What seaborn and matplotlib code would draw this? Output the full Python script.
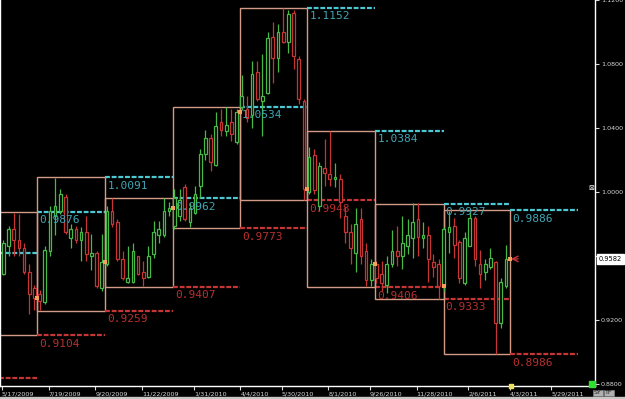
import numpy as np
import pandas as pd
import seaborn as sns
import matplotlib
matplotlib.use("Agg")
import matplotlib.pyplot as plt
import matplotlib.dates as mdates
import matplotlib.transforms as mtrans
from matplotlib.patches import Rectangle

# Estilo escuro, fundo preto como no terminal de cotações
sns.set_style("dark", {"axes.facecolor": "black", "figure.facecolor": "black",
                       "axes.edgecolor": "white"})

# Barras semanais (domingo de cada semana)
semanas = pd.date_range("2009-05-17", periods=98, freq="7D")

abertura = [0.949, 0.966, 0.977, 0.970, 0.965, 0.950, 0.940,
            0.936, 0.931, 0.963, 0.985, 0.988, 0.997, 0.971, 0.977, 0.970, 0.975, 0.960, 0.962, 0.940,
            0.955, 0.988, 0.981, 0.958, 0.944, 0.944, 0.960, 0.950, 0.947, 0.961, 0.973, 0.973, 0.988,
            0.979, 0.985, 1.003, 0.981, 0.987, 1.004, 1.024, 1.034, 1.017, 1.044, 1.038, 1.044, 1.031,
            1.053, 1.052, 1.048, 1.075, 1.057, 1.062, 1.097, 1.084, 1.100, 1.094, 1.112, 1.083, 1.057,
            1.000, 1.023, 0.991, 1.015, 1.011, 1.008, 1.008, 0.985, 0.975, 0.962, 0.983, 0.963, 0.945,
            0.955, 0.949, 0.942, 0.955, 0.963, 0.960, 0.966, 0.971, 0.983, 0.971, 0.973, 0.956, 0.955,
            0.941, 0.975, 0.979, 0.969, 0.943, 0.966, 0.984, 0.955, 0.950, 0.953, 0.956, 0.918, 0.941]
maxima = [0.970, 0.979, 0.987, 0.986, 0.968, 0.955, 0.942,
          0.939, 0.966, 0.991, 1.009, 1.002, 0.999, 0.980, 0.979, 0.978, 0.985, 0.974, 0.963, 0.974,
          0.991, 0.996, 0.983, 0.963, 0.966, 0.968, 0.960, 0.957, 0.966, 0.982, 0.982, 0.996, 0.994,
          1.002, 1.002, 1.005, 0.993, 1.004, 1.027, 1.039, 1.036, 1.050, 1.052, 1.053, 1.052, 1.052,
          1.073, 1.060, 1.082, 1.082, 1.086, 1.100, 1.106, 1.105, 1.115, 1.114, 1.114, 1.085, 1.058,
          1.028, 1.027, 1.019, 1.033, 1.038, 1.018, 1.011, 0.991, 0.980, 0.990, 0.990, 0.968, 0.958,
          0.957, 0.957, 0.960, 0.976, 0.979, 0.985, 0.983, 0.993, 0.993, 0.981, 0.979, 0.961, 0.958,
          0.978, 0.988, 0.984, 0.970, 0.975, 0.9886, 0.985, 0.964, 0.958, 0.965, 0.957, 0.946, 0.967]
minima = [0.948, 0.960, 0.960, 0.960, 0.949, 0.924, 0.926,
          0.926, 0.930, 0.960, 0.973, 0.986, 0.974, 0.965, 0.968, 0.957, 0.957, 0.951, 0.940, 0.938,
          0.954, 0.978, 0.957, 0.945, 0.943, 0.943, 0.948, 0.941, 0.946, 0.959, 0.968, 0.972, 0.985,
          0.977, 0.982, 0.982, 0.978, 0.986, 0.996, 1.020, 1.013, 1.016, 1.035, 1.035, 1.032, 1.030,
          1.051, 1.044, 1.040, 1.057, 1.035, 1.061, 1.068, 1.075, 1.093, 1.087, 1.077, 1.055, 0.995,
          0.999, 0.999, 0.988, 1.004, 1.004, 1.003, 0.984, 0.968, 0.955, 0.950, 0.955, 0.941, 0.941,
          0.943, 0.938, 0.937, 0.953, 0.954, 0.952, 0.961, 0.959, 0.960, 0.965, 0.944, 0.947, 0.933,
          0.938, 0.962, 0.959, 0.943, 0.942, 0.966, 0.954, 0.940, 0.945, 0.952, 0.8986, 0.915, 0.940]
fechamento = [0.968, 0.977, 0.970, 0.965, 0.950, 0.936, 0.934,
              0.932, 0.964, 0.988, 0.991, 0.999, 0.975, 0.977, 0.970, 0.975, 0.961, 0.962, 0.941, 0.956,
              0.988, 0.980, 0.958, 0.946, 0.946, 0.963, 0.949, 0.946, 0.960, 0.975, 0.977, 0.988, 0.990,
              0.996, 0.995, 0.983, 0.990, 0.999, 1.024, 1.034, 1.019, 1.041, 1.039, 1.042, 1.036, 1.050,
              1.060, 1.046, 1.074, 1.058, 1.060, 1.096, 1.084, 1.100, 1.094, 1.111, 1.085, 1.058, 1.002,
              1.022, 1.001, 1.016, 1.012, 1.008, 1.009, 0.994, 0.975, 0.965, 0.980, 0.960, 0.945, 0.955,
              0.946, 0.943, 0.955, 0.963, 0.960, 0.968, 0.973, 0.981, 0.972, 0.973, 0.958, 0.953, 0.941,
              0.977, 0.978, 0.967, 0.946, 0.971, 0.984, 0.958, 0.949, 0.955, 0.959, 0.918, 0.944, 0.958]

# Máxima / mínima de cada trimestre (2009Q1 .. 2011Q1)
trimestres = pd.period_range("2009Q1", "2011Q1", freq="Q")
max_trim = [0.9619, 0.9876, 1.0091, 0.9962, 1.0534, 1.1152, 1.0384, 0.9927, 0.9886]
min_trim = [0.8838, 0.9104, 0.9259, 0.9407, 0.9773, 0.9948, 0.9406, 0.9333, 0.8986]

preco_atual = 0.9582

datas_eixo = ["2009-05-17", "2009-07-19", "2009-09-20", "2009-11-22", "2010-01-31",
              "2010-04-04", "2010-05-30", "2010-08-01", "2010-09-26", "2010-11-28",
              "2011-02-06", "2011-04-03", "2011-05-29"]

VERDE = "#46b946"
VERMELHO = "#c83535"
CIANO = "#4cc8d2"
CAIXA = "#d49a88"

fig = plt.figure(figsize=(6.25, 3.99), dpi=100)
fig.patch.set_facecolor("black")
ax = fig.add_axes([0, 13.5 / 399, 595 / 625, 385.5 / 399])
ax.set_facecolor("black")
ax.grid(False)

x_barras = mdates.date2num(semanas) + 1.8
largura = 3.6

# Candles vazados
for x, o, h, l, c in zip(x_barras, abertura, maxima, minima, fechamento):
    cor = VERDE if c >= o else VERMELHO
    ax.vlines(x, l, h, color=cor, lw=0.9, zorder=3)
    base = min(o, c)
    alt = max(abs(c - o), 0.0012)
    ax.add_patch(Rectangle((x - largura / 2, base), largura, alt, facecolor="black",
                           edgecolor=cor, lw=0.9, zorder=4))

# Caixas trimestrais e projeções de máxima/mínima
bordas = [mdates.date2num(p.start_time) + 2.5
          for p in pd.period_range("2009Q1", "2011Q3", freq="Q")]
for i, p in enumerate(trimestres):
    esq, dir_, prox = bordas[i], bordas[i + 1], bordas[i + 2]
    if i > 0:
        ax.add_patch(Rectangle((esq, min_trim[i]), dir_ - esq, max_trim[i] - min_trim[i],
                               fill=False, edgecolor=CAIXA, lw=1.0, zorder=2))
    ax.hlines(max_trim[i], dir_, prox, color=CIANO, lw=1.6, linestyles=(0, (2.2, 0.8)), zorder=2)
    ax.hlines(min_trim[i], dir_, prox, color=VERMELHO, lw=1.6, linestyles=(0, (2.2, 0.8)), zorder=2)
    if i > 0:
        ax.annotate(f"{max_trim[i]:.4f}", (dir_, max_trim[i]), xytext=(1.5, -2.5),
                    textcoords="offset points", va="top", ha="left", color="#3fa6b4",
                    fontsize=8, family="DejaVu Sans Mono", zorder=6)
        ax.annotate(f"{min_trim[i]:.4f}", (dir_, min_trim[i]), xytext=(1.5, -2.5),
                    textcoords="offset points", va="top", ha="left", color="#b83030",
                    fontsize=8, family="DejaVu Sans Mono", zorder=6)

# Marcadores de fechamento do trimestre
trim_barras = semanas.to_period("Q")
ultimos = [np.where(trim_barras == p)[0][-1] for p in trimestres[1:]]
marc = pd.DataFrame({"x": [bordas[i + 2] for i in range(len(ultimos))],
                     "y": [fechamento[j] for j in ultimos]})
sns.scatterplot(data=marc, x="x", y="y", ax=ax, color="#f3a05a", s=9, marker="s",
                linewidth=0, zorder=7, legend=False)

# Seta do preço atual
ax.annotate("", xy=(x_barras[-1] + 3, preco_atual), xytext=(x_barras[-1] + 20, preco_atual),
            arrowprops=dict(arrowstyle="->", color="#c83535", lw=1.0), zorder=7)

x0 = mdates.date2num(pd.Timestamp("2009-05-17"))
ax.set_xlim(x0 - 2.7, x0 + 801)
ax.set_ylim(0.8791, 1.12)

# Eixos
ax.yaxis.tick_right()
ax.set_yticks([0.88, 0.92, 0.96, 1.00, 1.04, 1.08, 1.12])
ax.set_yticklabels([f"{v:.4f}" for v in [0.88, 0.92, 0.96, 1.00, 1.04, 1.08, 1.12]])
ax.tick_params(axis="y", colors="#d8d8d8", labelsize=4.6, length=3, width=0.8, pad=1.2,
               right=True, left=False)
ticks = pd.to_datetime(datas_eixo)
ax.set_xticks(mdates.date2num(ticks))
ax.set_xticklabels([f"{d.month}/{d.day}/{d.year}" for d in ticks])
ax.tick_params(axis="x", colors="#d8d8d8", labelsize=4.6, length=3, width=0.8, pad=1,
               bottom=True)
for lbl in ax.get_xticklabels():
    lbl.set_ha("left")
ax.set_xlabel("")
ax.set_ylabel("")
for lado in ["left", "right", "bottom"]:
    ax.spines[lado].set_color("white")
    ax.spines[lado].set_linewidth(1)
ax.spines["top"].set_visible(False)

# Etiqueta do último preço
trans = mtrans.blended_transform_factory(ax.transAxes, ax.transData)
ax.text(1.006, preco_atual, f"{preco_atual:.4f}", transform=trans, fontsize=4.8, color="black",
        va="center", ha="left", clip_on=False, zorder=8,
        bbox=dict(boxstyle="square,pad=0.3", fc="white", ec="white"))

# Marcador da data atual no eixo
ax.scatter([x_barras[-1] + 7], [0.8791], color="#f0e060", s=6, marker="s", clip_on=False, zorder=8)

# Detalhes da janela
fig.patches.append(Rectangle((589 / 625, 12 / 399), 6 / 625, 6 / 399, transform=fig.transFigure,
                             color="#30e030", zorder=5))
fig.patches.append(Rectangle((0, 0), 1, 2 / 399, transform=fig.transFigure, color="#c8c8c8"))
fig.text(591.5 / 625, 1 - 188 / 399, "⊠", fontsize=5, color="white", ha="center", va="center")
for xt, txt in [(598, "SY"), (609, "TF")]:
    fig.text(xt / 625, 6 / 399, txt, fontsize=4.5, color="#202020", ha="center", va="center",
             bbox=dict(boxstyle="square,pad=0.15", fc="#b0b0b0", ec="#808080", lw=0.5))

fig.savefig("out.png", dpi=100, facecolor="black")
